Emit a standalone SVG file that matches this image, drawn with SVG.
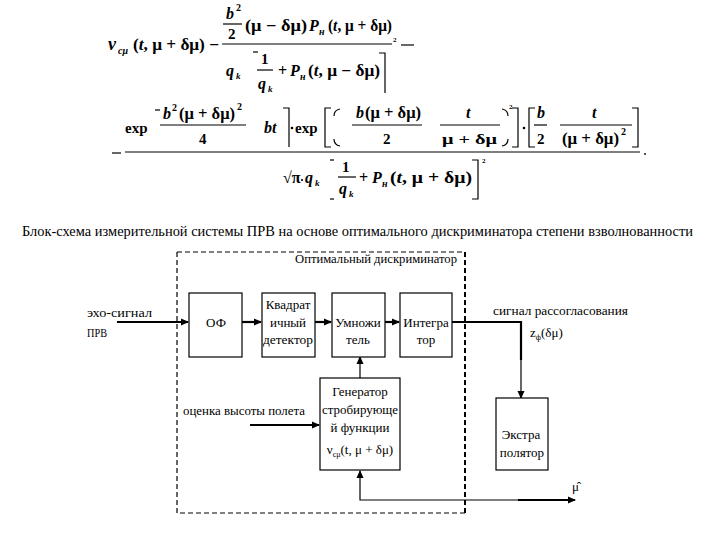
<svg xmlns="http://www.w3.org/2000/svg" width="720" height="540" viewBox="0 0 720 540">
<defs>
<style>
text{font-family:"Liberation Serif","Times New Roman",Times,"Noto Serif","DejaVu Serif",serif}
.f{font-weight:bold;fill:#000;font-size:16px}
.i{font-style:italic}
.sb{font-size:10px}
.s9{font-size:9px}
.s7{font-size:7px}
.s15{font-size:15px}
.s18{font-size:18px}
.lb{fill:#000;font-size:13px}
.ln{stroke:#000;stroke-width:1.2;fill:none}
.bx{stroke:#000;stroke-width:1.2;fill:#fff}
.th{stroke:#000;stroke-width:2.2;fill:none}
.tn{stroke:#000;stroke-width:1.2;fill:none}
</style>
<marker id="ar" markerWidth="8" markerHeight="8" refX="7" refY="4" orient="auto" markerUnits="userSpaceOnUse">
<path d="M0,0.5 L8,4 L0,7.5 Z" fill="#000"/>
</marker>
</defs>
<rect width="720" height="540" fill="#fff"/>

<g id="formula1">
<text class="f i s18" x="108" y="50">ν</text>
<text class="f i sb" x="118" y="54">cμ</text>
<text class="f" x="133" y="50" textLength="86" lengthAdjust="spacingAndGlyphs">(<tspan class="i">t</tspan>, μ + δμ) −</text>
<text class="f i" x="226" y="19">b</text>
<text class="f sb" x="236" y="11">2</text>
<line class="ln" x1="223" y1="24" x2="242" y2="24"/>
<text class="f s15" x="228" y="39">2</text>
<text class="f" x="245" y="31" textLength="62" lengthAdjust="spacingAndGlyphs">(μ − δμ)</text>
<text class="f i" x="309" y="31">P</text>
<text class="f i sb" x="319" y="35">н</text>
<text class="f" x="328" y="31" textLength="64" lengthAdjust="spacingAndGlyphs">(<tspan class="i">t</tspan>, μ + δμ)</text>
<line class="ln" x1="222" y1="44" x2="392" y2="44"/>
<text class="f s7" x="393" y="42">2</text>
<line class="ln" x1="401" y1="45" x2="414" y2="45"/>
<text class="f i" x="226" y="76">q</text>
<text class="f i s9" x="236" y="79">k</text>
<line class="ln" x1="253" y1="52" x2="258" y2="52"/>
<text class="f s15" x="261" y="64">1</text>
<line class="ln" x1="257" y1="70" x2="273" y2="70"/>
<text class="f i" x="258" y="89">q</text>
<text class="f i s9" x="268" y="92">k</text>
<text class="f" x="278" y="76">+</text>
<text class="f i" x="290" y="76">P</text>
<text class="f i sb" x="300" y="80">н</text>
<text class="f" x="308" y="76" textLength="72" lengthAdjust="spacingAndGlyphs">(<tspan class="i">t</tspan>, μ − δμ)</text>
<path class="ln" d="M379,53 H385 V93"/>
</g>

<g id="formula2">
<line class="ln" x1="112" y1="153" x2="121" y2="153"/>
<text class="f s15" x="125" y="133">exp</text>
<line class="ln" x1="155" y1="110" x2="160" y2="110"/>
<text class="f i" x="163" y="119">b</text>
<text class="f sb" x="172" y="111">2</text>
<text class="f" x="179" y="119" textLength="56" lengthAdjust="spacingAndGlyphs">(μ + δμ)</text>
<text class="f sb" x="237" y="110">2</text>
<line class="ln" x1="160" y1="125" x2="246" y2="125"/>
<text class="f s15" x="199" y="144">4</text>
<text class="f i" x="264" y="133">bt</text>
<path class="ln" d="M283,108 H289 V147"/>
<circle cx="292" cy="128" r="1.3" fill="#000"/>
<text class="f s15" x="295" y="133">exp</text>
<path class="ln" d="M331,108 H325 V147 H331"/>
<path class="ln" d="M340,109 Q334,110 334,116 M340,146 Q334,145 334,139"/>
<text class="f i" x="356" y="118">b</text>
<text class="f" x="365" y="118" textLength="56" lengthAdjust="spacingAndGlyphs">(μ + δμ)</text>
<line class="ln" x1="352" y1="125" x2="422" y2="125"/>
<text class="f s15" x="383" y="144">2</text>
<text class="f i" x="466" y="118">t</text>
<line class="ln" x1="440" y1="125" x2="500" y2="125"/>
<text class="f s15" x="442" y="144" textLength="55" lengthAdjust="spacingAndGlyphs">μ + δμ</text>
<path class="ln" d="M502,109 Q508,110 508,116 M502,146 Q508,145 508,139"/>
<text class="f s7" x="509" y="109">2</text>
<path class="ln" d="M512,108 H518 V147 H512"/>
<circle cx="524" cy="128" r="1.3" fill="#000"/>
<path class="ln" d="M535,108 H529 V147 H535"/>
<text class="f i" x="537" y="118">b</text>
<line class="ln" x1="534" y1="125" x2="547" y2="125"/>
<text class="f s15" x="537" y="144">2</text>
<text class="f i" x="592" y="118">t</text>
<line class="ln" x1="560" y1="125" x2="632" y2="125"/>
<text class="f" x="562" y="144" textLength="57" lengthAdjust="spacingAndGlyphs">(μ + δμ)</text>
<text class="f sb" x="621" y="135">2</text>
<path class="ln" d="M632,108 H638 V147 H632"/>
<line class="ln" x1="125" y1="152" x2="640" y2="152"/>
<circle cx="645" cy="154" r="0.9" fill="#000"/>
<text class="f" x="283" y="183">√π</text>
<circle cx="302" cy="180" r="1.1" fill="#000"/>
<text class="f i" x="305" y="183">q</text>
<text class="f i s9" x="315" y="186">k</text>
<line class="ln" x1="330" y1="160" x2="334" y2="160"/>
<line class="ln" x1="330" y1="199" x2="334" y2="199"/>
<text class="f s15" x="342" y="172">1</text>
<line class="ln" x1="338" y1="177" x2="356" y2="177"/>
<text class="f i" x="339" y="194">q</text>
<text class="f i s9" x="349" y="197">k</text>
<text class="f" x="359" y="183">+</text>
<text class="f i" x="372" y="183">P</text>
<text class="f i sb" x="382" y="187">н</text>
<text class="f" x="390" y="183" textLength="82" lengthAdjust="spacingAndGlyphs">(<tspan class="i">t</tspan>, μ + δμ)</text>
<path class="ln" d="M472,160 H478 V199 H472"/>
<text class="f s7" x="482" y="163">2</text>
</g>

<text class="lb" x="22" y="236" style="font-size:15px" textLength="671" lengthAdjust="spacingAndGlyphs">Блок-схема измерительной системы ПРВ на основе оптимального дискриминатора степени взволнованности</text>

<g id="discriminator">
<path d="M177,252 H465 M177,252 V513 H465" stroke="#000" stroke-width="1.2" fill="none" stroke-dasharray="5,3"/>
<line x1="465" y1="252" x2="465" y2="513" stroke="#000" stroke-width="2" stroke-dasharray="5,3"/>
<text class="lb" x="295" y="263" textLength="162" lengthAdjust="spacingAndGlyphs">Оптимальный дискриминатор</text>
</g>

<g id="connectors">
<line class="th" x1="117" y1="322" x2="188" y2="322" marker-end="url(#ar)"/>
<line class="th" x1="242" y1="322" x2="261" y2="322" marker-end="url(#ar)"/>
<line class="th" x1="315" y1="322" x2="331" y2="322" marker-end="url(#ar)"/>
<line class="th" x1="385" y1="322" x2="399" y2="322" marker-end="url(#ar)"/>
<path class="th" d="M452,322 H521 V360"/>
<line class="tn" x1="521" y1="358" x2="521" y2="398" marker-end="url(#ar)"/>
<line class="tn" x1="360" y1="378" x2="360" y2="357" marker-end="url(#ar)"/>
<line class="th" x1="250" y1="425" x2="319" y2="425" marker-end="url(#ar)"/>
<path class="tn" d="M519,500 H360 V471" marker-end="url(#ar)"/>
<line class="th" x1="518" y1="500" x2="575" y2="500" marker-end="url(#ar)"/>
</g>

<g id="in-label">
<text class="lb" x="87" y="317" textLength="65" lengthAdjust="spacingAndGlyphs">эхо-сигнал</text>
<text class="lb" x="87" y="337" textLength="20" lengthAdjust="spacingAndGlyphs">ПРВ</text>
</g>

<g id="of">
<rect class="bx" x="189" y="293" width="53" height="64"/>
<text class="lb" x="216" y="327" text-anchor="middle">ОФ</text>
</g>

<g id="detector">
<rect class="bx" x="262" y="293" width="53" height="64"/>
<text class="lb" x="288" y="309" text-anchor="middle">Квадрат</text>
<text class="lb" x="288" y="327" text-anchor="middle">ичный</text>
<text class="lb" x="288" y="344" text-anchor="middle" textLength="50" lengthAdjust="spacingAndGlyphs">детектор</text>
</g>

<g id="multiplier">
<rect class="bx" x="332" y="293" width="53" height="64"/>
<text class="lb" x="358" y="327" text-anchor="middle">Умножи</text>
<text class="lb" x="358" y="344" text-anchor="middle">тель</text>
</g>

<g id="integrator">
<rect class="bx" x="400" y="293" width="52" height="64"/>
<text class="lb" x="426" y="327" text-anchor="middle">Интегра</text>
<text class="lb" x="426" y="344" text-anchor="middle">тор</text>
</g>

<g id="generator">
<rect class="bx" x="320" y="378" width="80" height="92"/>
<text class="lb" x="360" y="396" text-anchor="middle">Генератор</text>
<text class="lb" x="360" y="414" text-anchor="middle" textLength="76" lengthAdjust="spacingAndGlyphs">стробирующе</text>
<text class="lb" x="360" y="432" text-anchor="middle">й функции</text>
<text class="lb" x="360" y="454" text-anchor="middle">ν<tspan font-size="8" dy="3">cμ</tspan><tspan dy="-3">(t, μ + δμ)</tspan></text>
</g>

<g id="est-label">
<text class="lb" x="183" y="415" textLength="122" lengthAdjust="spacingAndGlyphs">оценка высоты полета</text>
</g>

<g id="mismatch-label">
<text class="lb" x="493" y="315" textLength="135" lengthAdjust="spacingAndGlyphs">сигнал рассогласования</text>
<text class="lb" x="530" y="337">z<tspan font-size="8" dy="3">ф</tspan><tspan dy="-3">(δμ)</tspan></text>
</g>

<g id="extrapolator">
<rect class="bx" x="496" y="398" width="52" height="72"/>
<text class="lb" x="521" y="439" text-anchor="middle">Экстра</text>
<text class="lb" x="522" y="457" text-anchor="middle">полятор</text>
</g>

<g id="out-label">
<text class="lb" x="572" y="491">μ̂</text>
</g>
</svg>
